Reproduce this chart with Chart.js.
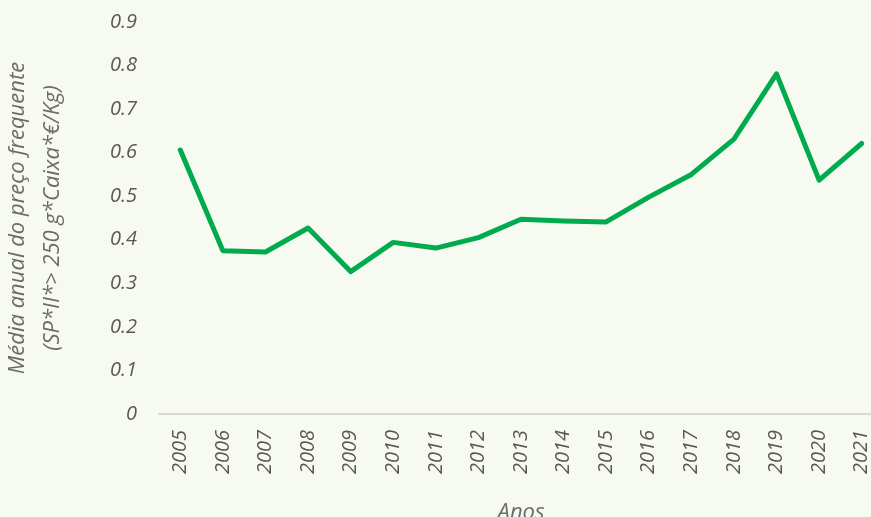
<!DOCTYPE html>
<html>
<head>
<meta charset="utf-8">
<script src="https://cdn.jsdelivr.net/npm/chart.js@4"></script>
<style>
  html, body { margin: 0; padding: 0; background: #f7faf0; overflow: hidden; width: 871px; height: 517px; }
  #wrap { position: absolute; left: 0; top: 0; width: 883px; height: 526px; }
</style>
</head>
<body>
<div id="wrap"><canvas id="c" width="883" height="526"></canvas></div>
<script>
const years = ['2005','2006','2007','2008','2009','2010','2011','2012','2013','2014','2015','2016','2017','2018','2019','2020','2021'];
const precoMedio = [0.606, 0.375, 0.372, 0.427, 0.327, 0.394, 0.381, 0.405, 0.447, 0.443, 0.441, 0.498, 0.550, 0.631, 0.781, 0.537, 0.621];
const yTitle = ['Média anual do preço frequente', '(SP*II*> 250 g*Caixa*€/Kg)'];
const xTitle = 'Anos';

const FAMILY = '"Open Sans", "Segoe UI", sans-serif';

new Chart(document.getElementById('c'), {
  type: 'line',
  data: {
    labels: years,
    datasets: [{
      data: precoMedio,
      borderColor: '#00ab4e',
      borderWidth: 5,
      borderJoinStyle: 'round',
      borderCapStyle: 'round',
      pointRadius: 0,
      tension: 0,
      fill: false
    }]
  },
  options: {
    responsive: false,
    animation: false,
    devicePixelRatio: 1,
    layout: { padding: { top: 22, right: 0, left: 0, bottom: 0 } },
    plugins: { legend: { display: false }, tooltip: { enabled: false } },
    scales: {
      x: {
        offset: true,
        grid: { display: false, drawTicks: false },
        border: { display: true, color: '#d9d9d9', width: 2 },
        ticks: {
          minRotation: 90, maxRotation: 90, padding: 16,
          color: '#595959',
          font: { family: FAMILY, size: 20, style: 'italic' }
        },
        title: {
          display: true, text: xTitle, color: '#6b6b6b',
          padding: { top: 0, bottom: 0 },
          font: { family: FAMILY, size: 22, style: 'italic', lineHeight: 1.2 }
        },
        afterFit: s => { s.height = 526 - 414; s.paddingLeft = 0; s.paddingRight = 0; }
      },
      y: {
        min: 0, max: 0.9,
        grid: { display: false, drawTicks: false },
        border: { display: false },
        ticks: {
          stepSize: 0.1, padding: 22,
          color: '#595959',
          font: { family: FAMILY, size: 20, style: 'italic' },
          callback: v => (Math.round(v * 10) / 10).toString()
        },
        title: {
          display: true, text: yTitle, color: '#6b6b6b',
          padding: { top: 0, bottom: 0 },
          font: { family: FAMILY, size: 22, style: 'italic', lineHeight: '35px' }
        },
        afterFit: s => { s.width = 159; s.paddingTop = 0; s.paddingBottom = 0; }
      }
    }
  }
});
</script>
</body>
</html>
